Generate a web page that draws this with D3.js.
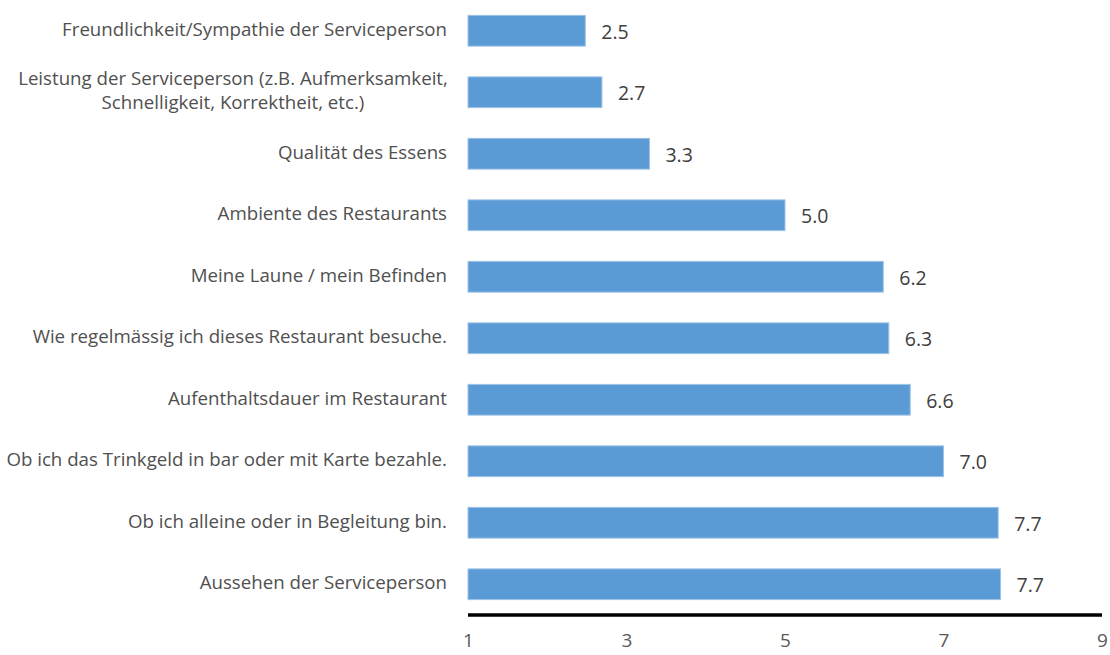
<!DOCTYPE html>
<html><head><meta charset="utf-8">
<script src="https://cdn.jsdelivr.net/npm/d3@7"></script>
<style>body{margin:0;background:#fff}svg{display:block}</style>
</head><body>
<svg id="c" width="1110" height="655"></svg>
<script>
const categories = [
  ["Freundlichkeit/Sympathie der Serviceperson"],
  ["Leistung der Serviceperson (z.B. Aufmerksamkeit,", "Schnelligkeit, Korrektheit, etc.)"],
  ["Qualität des Essens"],
  ["Ambiente des Restaurants"],
  ["Meine Laune / mein Befinden"],
  ["Wie regelmässig ich dieses Restaurant besuche."],
  ["Aufenthaltsdauer im Restaurant"],
  ["Ob ich das Trinkgeld in bar oder mit Karte bezahle."],
  ["Ob ich alleine oder in Begleitung bin."],
  ["Aussehen der Serviceperson"]
];
const values = [2.48, 2.69, 3.29, 5.0, 6.24, 6.31, 6.58, 7.0, 7.69, 7.72];
const xTicks = [1, 3, 5, 7, 9];

const svg = d3.select("#c");
const x = d3.scaleLinear().domain([1, 9]).range([468, 1102]);
const y = d3.scaleBand().domain(d3.range(categories.length)).range([0, 615]).paddingInner(0.5).paddingOuter(0.25);
const font = "'Open Sans', sans-serif";
const txt = "#505050";

svg.selectAll("rect.bar").data(values).join("rect")
  .attr("class", "bar")
  .attr("x", x(1)).attr("y", (d, i) => y(i))
  .attr("width", d => x(d) - x(1)).attr("height", y.bandwidth())
  .attr("fill", "#5B9BD5").attr("stroke", "#9DC3E6").attr("stroke-width", 1);

svg.selectAll("text.val").data(values).join("text")
  .attr("class", "val")
  .attr("x", d => x(d) + 16).attr("y", (d, i) => y(i) + y.bandwidth() / 2 + 3)
  .attr("dominant-baseline", "middle")
  .attr("font-family", font).attr("font-size", 19.5).attr("fill", "#404040")
  .text(d => d.toFixed(1));

categories.forEach((lines, i) => {
  const cy = y(i) + y.bandwidth() / 2;
  if (lines.length === 1) {
    svg.append("text").attr("x", 447).attr("y", cy).attr("text-anchor", "end")
      .attr("dominant-baseline", "middle").attr("font-family", font).attr("font-size", 18.7).attr("fill", txt)
      .text(lines[0]);
  } else {
    const t = svg.append("text").attr("text-anchor", "middle").attr("font-family", font)
      .attr("font-size", 18.7).attr("fill", txt).attr("dominant-baseline", "middle");
    lines.forEach((l, k) => t.append("tspan").attr("x", 233).attr("y", cy - 12 + k * 24).text(l));
  }
});

const ax = svg.append("g").attr("transform", "translate(0,615)")
  .call(d3.axisBottom(x).tickValues(xTicks).tickSize(0).tickPadding(19).tickFormat(d3.format("d")));
ax.select(".domain").attr("stroke", "#000").attr("stroke-width", 3.5).attr("d", `M${x(1)},0H${x(9)}`);
ax.selectAll("text").attr("font-family", font).attr("font-size", 19).attr("fill", "#595959");
</script>
</body></html>
